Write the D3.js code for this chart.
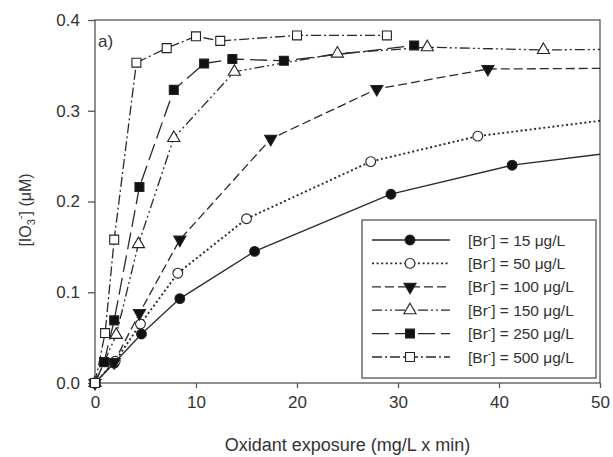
<!DOCTYPE html>
<html>
<head>
<meta charset="utf-8">
<script src="https://cdn.jsdelivr.net/npm/d3@7"></script>
<style>
  body { margin: 0; background: #fff; }
  text { font-family: "Liberation Sans", Arial, sans-serif; fill: #333; }
</style>
</head>
<body>
<div id="chart"></div>
<script>
// oxidant exposure (mg/L x min) vs [IO3-] (uM), one array per bromide level
// last point of the open-ended series sits past x=50 and is only used for the clipped tail
const br15 = [[0, 0], [1.9, 0.022], [4.6, 0.054], [8.4, 0.093], [15.8, 0.145], [29.3, 0.208], [41.3, 0.240], [55, 0.259]]
const br50 = [[0, 0], [2.0, 0.024], [4.5, 0.065], [8.2, 0.121], [15.0, 0.181], [27.3, 0.244], [37.9, 0.272], [55, 0.296]]
const br100 = [[0, 0], [1.9, 0.023], [4.4, 0.077], [8.4, 0.158], [17.4, 0.269], [27.9, 0.324], [38.9, 0.346], [55, 0.347]]
const br150 = [[0, 0], [2.1, 0.053], [4.3, 0.153], [7.8, 0.270], [13.8, 0.343], [24.0, 0.363], [32.9, 0.370], [44.4, 0.367], [55, 0.368]]
const br250 = [[0, 0], [0.9, 0.023], [1.9, 0.069], [4.4, 0.216], [7.8, 0.323], [10.8, 0.352], [13.6, 0.357], [18.7, 0.355], [31.6, 0.372]]
const br500 = [[0, 0], [1.0, 0.055], [1.9, 0.158], [4.1, 0.353], [7.1, 0.369], [10.0, 0.382], [12.4, 0.377], [20.0, 0.383], [28.9, 0.383]]

const seriesNames = ['[Br] = 15 \u03bcg/L', '[Br] = 50 \u03bcg/L', '[Br] = 100 \u03bcg/L', '[Br] = 150 \u03bcg/L', '[Br] = 250 \u03bcg/L', '[Br] = 500 \u03bcg/L']
const xTicks = [0, 10, 20, 30, 40, 50]
const yTicks = [0, 0.1, 0.2, 0.3, 0.4]

const width = 613, height = 457
const plotLeft = 95, plotRight = 600, plotTop = 20, plotBottom = 383

const styles = [
  { data: br15, dash: null, symbol: d3.symbolCircle, size: 75, fill: '#111', rotate: 0 },
  { data: br50, dash: '2,2.6', symbol: d3.symbolCircle, size: 75, fill: '#fff', rotate: 0 },
  { data: br100, dash: '9,4', symbol: d3.symbolTriangle, size: 64, fill: '#111', rotate: 180 },
  { data: br150, dash: '10,3,2,3,2,3', symbol: d3.symbolTriangle, size: 64, fill: '#fff', rotate: 0 },
  { data: br250, dash: '17,6', symbol: d3.symbolSquare, size: 80, fill: '#111', rotate: 0 },
  { data: br500, dash: '10,3,2,3', symbol: d3.symbolSquare, size: 80, fill: '#fff', rotate: 0 }
]

const x = d3.scaleLinear().domain([0, 50]).range([plotLeft, plotRight])
const y = d3.scaleLinear().domain([0, 0.4]).range([plotBottom, plotTop])

const svg = d3.select('#chart').append('svg')
  .attr('width', width)
  .attr('height', height)

svg.append('clipPath').attr('id', 'plot-area')
  .append('rect')
  .attr('x', plotLeft).attr('y', plotTop)
  .attr('width', plotRight - plotLeft).attr('height', plotBottom - plotTop)

// frame
svg.append('rect')
  .attr('x', plotLeft).attr('y', plotTop)
  .attr('width', plotRight - plotLeft).attr('height', plotBottom - plotTop)
  .attr('fill', 'none')
  .attr('stroke', '#555')
  .attr('stroke-width', 1.3)

// axes
let xAxis = svg.append('g')
  .attr('transform', `translate(0, ${plotBottom})`)
  .call(d3.axisBottom(x).tickValues(xTicks).tickSize(5).tickPadding(8).tickFormat(d3.format('d')))
xAxis.select('.domain').remove()
xAxis.selectAll('.tick line').attr('stroke', '#555').attr('stroke-width', 1.3)
xAxis.selectAll('.tick text').attr('font-size', 17).attr('fill', '#333')

let yAxis = svg.append('g')
  .attr('transform', `translate(${plotLeft}, 0)`)
  .call(d3.axisLeft(y).tickValues(yTicks).tickSize(7).tickPadding(8).tickFormat(d3.format('.1f')))
yAxis.select('.domain').remove()
yAxis.selectAll('.tick line').attr('stroke', '#555').attr('stroke-width', 1.3)
yAxis.selectAll('.tick text').attr('font-size', 17).attr('fill', '#333')

// axis titles
svg.append('text')
  .attr('x', (plotLeft + plotRight) / 2)
  .attr('y', 451)
  .attr('text-anchor', 'middle')
  .attr('font-size', 18)
  .text('Oxidant exposure (mg/L x min)')

let yTitle = svg.append('text')
  .attr('transform', 'translate(31, 210) rotate(-90)')
  .attr('text-anchor', 'middle')
  .attr('font-size', 16)
yTitle.append('tspan').text('[IO')
yTitle.append('tspan').text('3').attr('font-size', 11).attr('dy', 4)
yTitle.append('tspan').text('-').attr('font-size', 11).attr('dy', -11)
yTitle.append('tspan').text('] (\u03bcM)').attr('dy', 7)

svg.append('text')
  .attr('x', 98).attr('y', 47)
  .attr('font-size', 17)
  .text('a)')

// lines
let line = d3.line().x(d => x(d[0])).y(d => y(d[1]))
let lines = svg.append('g').attr('clip-path', 'url(#plot-area)')
styles.forEach(s => {
  lines.append('path')
    .datum(s.data)
    .attr('d', line)
    .attr('fill', 'none')
    .attr('stroke', '#2a2a2a')
    .attr('stroke-width', s.dash === '2,2.6' ? 1.9 : 1.3)
    .attr('stroke-dasharray', s.dash)
})

// markers, drawn on top, not clipped
let drawMarker = (g, s) => {
  g.attr('d', d3.symbol().type(s.symbol).size(s.size))
    .attr('fill', s.fill)
    .attr('stroke', '#222')
    .attr('stroke-width', 1.1)
}
styles.forEach(s => {
  svg.append('g').selectAll('path')
    .data(s.data.filter(d => d[0] <= 50))
    .enter().append('path')
    .attr('transform', d => `translate(${x(d[0])}, ${y(d[1])}) rotate(${s.rotate})`)
    .call(drawMarker, s)
})

// legend
let legend = svg.append('g').attr('transform', 'translate(362, 220)')
legend.append('rect')
  .attr('width', 234).attr('height', 158)
  .attr('fill', '#fff')
  .attr('stroke', '#555')
  .attr('stroke-width', 1.3)

styles.forEach((s, i) => {
  let row = legend.append('g').attr('transform', `translate(0, ${20 + i * 23.4})`)
  row.append('line')
    .attr('x1', 10).attr('x2', 88)
    .attr('stroke', '#2a2a2a')
    .attr('stroke-width', s.dash === '2,2.6' ? 1.9 : 1.3)
    .attr('stroke-dasharray', s.dash)
  row.append('path')
    .attr('transform', `translate(48, 0) rotate(${s.rotate})`)
    .call(drawMarker, s)
  let label = row.append('text')
    .attr('x', 106).attr('y', 5.5)
    .attr('font-size', 15.5)
  let parts = seriesNames[i].split(']')
  label.append('tspan').text(parts[0])
  label.append('tspan').text('-').attr('font-size', 10).attr('dy', -6)
  label.append('tspan').text(']' + parts[1]).attr('dy', 6)
})
</script>
</body>
</html>
